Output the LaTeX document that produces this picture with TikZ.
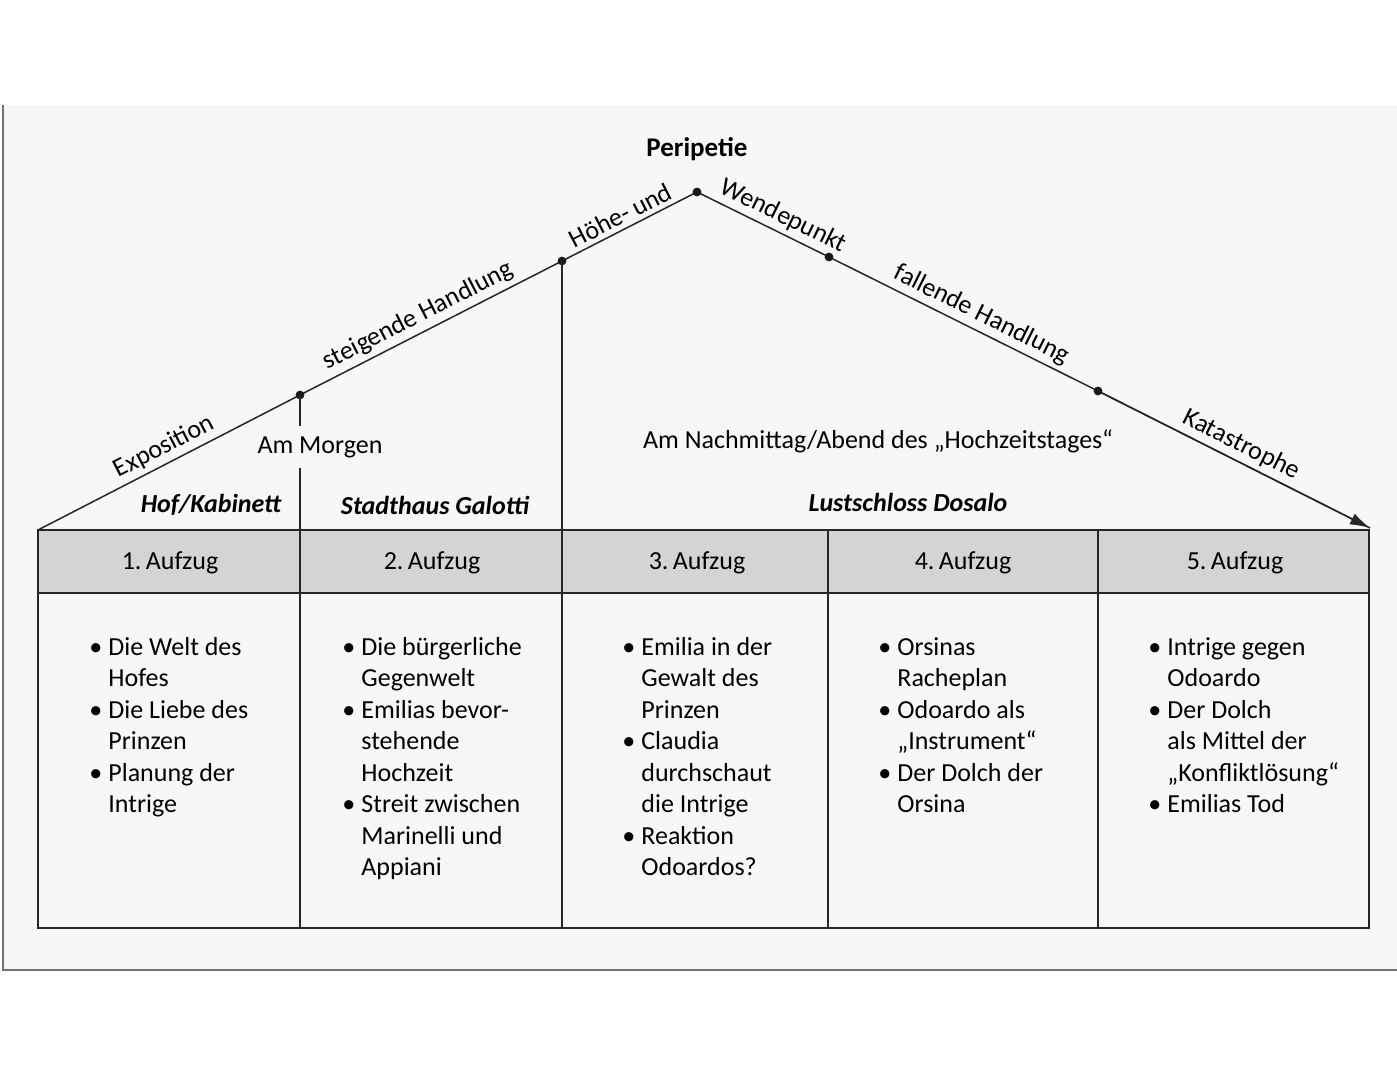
\documentclass[tikz,border=0pt]{standalone}
\usepackage{fontspec}
\setmainfont{Carlito}
\usetikzlibrary{arrows.meta}
\newcommand{\bu}{\makebox[0pt][r]{\textbullet\hspace{3pt}}}
\begin{document}
\begin{tikzpicture}[x=0.5pt,y=-0.5pt,
  txt/.style={font=\fontsize{13}{15.75}\selectfont, text=black, inner sep=0pt},
  lab/.style={txt, sloped, above, inner sep=2.2pt},
  place/.style={txt, font=\fontsize{13}{15.75}\selectfont\bfseries\itshape},
  head/.style={txt, anchor=center},
  list/.style={txt, align=left, anchor=north west},
  tline/.style={line width=0.75pt, black!85},
  tab/.style={line width=1pt, black!85},
  dotpt/.style={black!90}
]
\useasboundingbox (0,0) rectangle (1397,1080);
\fill[white] (0,0) rectangle (1397,1080);
% page of the photo
\fill[black!3] (3,105) rectangle (1397,970);
\draw[black!55, line width=0.6pt] (3,105) -- (3,970) -- (1397,970);

% coordinates of the curve
\coordinate (L) at (38,530);
\coordinate (A) at (300,395);
\coordinate (B) at (562,261);
\coordinate (P) at (697,192);
\coordinate (C) at (829,257);
\coordinate (D) at (1098,391);
\coordinate (E) at (1370,528);

% table
\fill[black!17] (38,530) rectangle (1369,593);
\draw[tab] (38,530) rectangle (1369,928);
\draw[tab] (38,593) -- (1369,593);
\coordinate (T1) at (300,530);
\coordinate (T3) at (828,530);
\coordinate (T4) at (1098,530);
\draw[tab] (T1) -- (300,928);
\draw[tab] (T3) -- (828,928);
\draw[tab] (T4) -- (1098,928);

% rising / falling line
\draw[tline] (L) -- node[lab, pos=0.51] {Exposition}
  (A) -- node[lab, pos=0.48] {steigende Handlung}
  (B) -- node[lab, pos=0.48] {Höhe- und}
  (P) -- node[lab, pos=0.6] {Wendepunkt}
  (C) -- node[lab, pos=0.54] {fallende Handlung}
  (D) -- node[lab, pos=0.5] {Katastrophe} (E);
\draw[tline, -{Latex[length=10pt, width=6pt]}] (D) -- (E);
\foreach \p in {A,B,P,C,D} \fill[dotpt] (\p) circle (2.2pt);

\node[txt, font=\fontsize{13.5}{15.75}\selectfont\bfseries] (peri) at (697,149) {Peripetie};

% time labels
\node[txt, inner sep=5pt] (morgen) at (320,447) {Am Morgen};
\draw[tab] (A) -- (A |- morgen.north);
\draw[tab] (A |- morgen.south) -- (T1);
\draw[tab] (B) -- (562,928);
\node[txt] (nach) at (878,441) {Am Nachmittag/Abend des „Hochzeitstages“};

% places
\node[place] (hof) at (211,505) {Hof/Kabinett};
\node[place] (stadt) at (435,505) {Stadthaus Galotti};
\node[place] (lust) at (908,502) {Lustschloss Dosalo};

% headers
\node[head] (h1) at (170,563) {1.\,Aufzug};
\node[head] (h2) at (432,563) {2.\,Aufzug};
\node[head] (h3) at (697,563) {3.\,Aufzug};
\node[head] (h4) at (963,563) {4.\,Aufzug};
\node[head] (h5) at (1235,563) {5.\,Aufzug};

% lists
\node[list] (l1) at (108,637) {\bu Die Welt des\\Hofes\\\bu Die Liebe des\\Prinzen\\\bu Planung der\\Intrige};
\node[list] (l2) at (361,637) {\bu Die bürgerliche\\Gegenwelt\\\bu Emilias bevor-\\stehende\\Hochzeit\\\bu Streit zwischen\\Marinelli und\\Appiani};
\node[list] (l3) at (641,637) {\bu Emilia in der\\Gewalt des\\Prinzen\\\bu Claudia\\durchschaut\\die Intrige\\\bu Reaktion\\Odoardos?};
\node[list] (l4) at (897,637) {\bu Orsinas\\Racheplan\\\bu Odoardo als\\„Instrument“\\\bu Der Dolch der\\Orsina};
\node[list] (l5) at (1167,637) {\bu Intrige gegen\\Odoardo\\\bu Der Dolch\\als Mittel der\\„Konfliktlösung“\\\bu Emilias Tod};
\end{tikzpicture}
\end{document}
